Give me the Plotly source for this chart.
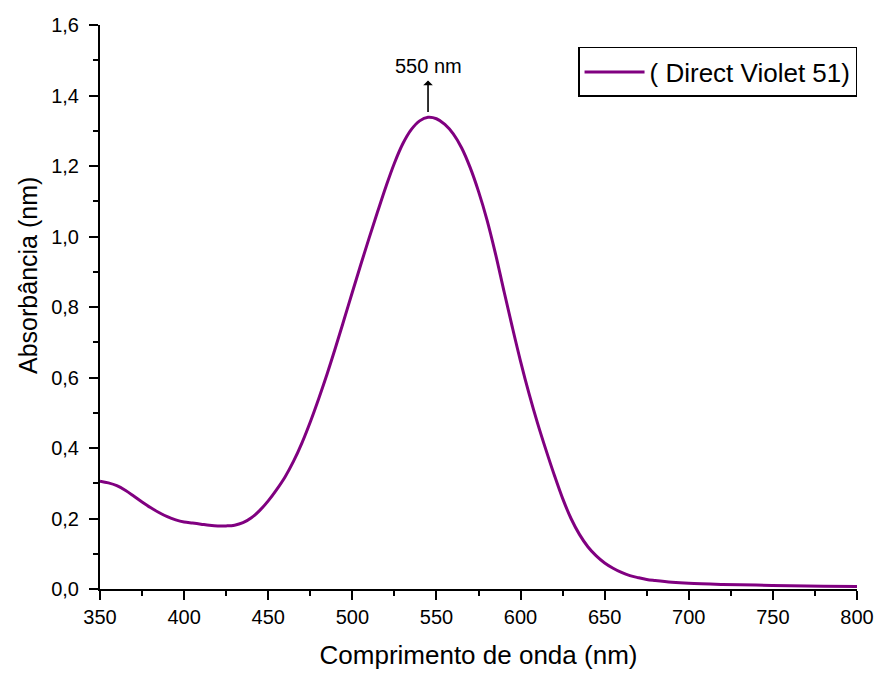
import plotly.graph_objects as go

# UV-Vis absorption spectrum of Direct Violet 51
wavelength_nm = [
    350, 355, 360, 365, 370, 375, 380, 385, 390, 395,
    400, 405, 410, 415, 420, 425, 430, 435, 440, 445,
    450, 455, 460, 465, 470, 475, 480, 485, 490, 495,
    500, 505, 510, 515, 520, 525, 530, 535, 540, 545,
    550, 555, 560, 565, 570, 575, 580, 585, 590, 595,
    600, 605, 610, 615, 620, 625, 630, 635, 640, 645,
    650, 655, 660, 665, 670, 675, 680, 690, 700, 720,
    740, 760, 780, 800,
]
absorbance = [
    0.306, 0.301, 0.293, 0.280, 0.264, 0.247, 0.231, 0.217, 0.205, 0.196,
    0.190, 0.187, 0.184, 0.181, 0.179, 0.179, 0.181, 0.188, 0.202, 0.223,
    0.250, 0.282, 0.318, 0.362, 0.414, 0.474, 0.540, 0.610, 0.685, 0.763,
    0.842, 0.920, 0.996, 1.070, 1.142, 1.208, 1.263, 1.303, 1.328, 1.338,
    1.334, 1.318, 1.291, 1.251, 1.196, 1.128, 1.048, 0.953, 0.848, 0.745,
    0.646, 0.555, 0.472, 0.396, 0.324, 0.257, 0.200, 0.155, 0.120, 0.094,
    0.074, 0.059, 0.047, 0.038, 0.032, 0.027, 0.024, 0.019, 0.016, 0.013,
    0.011, 0.009, 0.008, 0.007,
]

series_name = "( Direct Violet 51)"
peak_label = "550 nm"
x_ticks = list(range(350, 801, 50))
y_ticks = [0.0, 0.2, 0.4, 0.6, 0.8, 1.0, 1.2, 1.4, 1.6]

FONT = "Liberation Sans, Arial, sans-serif"
PURPLE = "#800080"

# position of the maximum, used for the arrow
i_max = max(range(len(absorbance)), key=lambda i: absorbance[i])
peak_x = wavelength_nm[i_max]
peak_y = absorbance[i_max]

fig = go.Figure()
fig.add_trace(go.Scatter(
    x=wavelength_nm, y=absorbance, mode="lines", name=series_name,
    line=dict(color=PURPLE, width=3, shape="spline", smoothing=1.0),
))

axis_common = dict(
    showline=True, linecolor="black", linewidth=2,
    showgrid=False, zeroline=False, mirror=False, automargin=False,
    ticks="outside", ticklen=9, tickwidth=2, tickcolor="black",
    tickfont=dict(family=FONT, size=20, color="black"),
)

fig.update_xaxes(
    range=[350, 800], tickvals=x_ticks,
    minor=dict(ticks="outside", ticklen=5, tickwidth=2, tickcolor="black", dtick=25, tick0=350),
    title=dict(text="Comprimento de onda (nm)", font=dict(family=FONT, size=26, color="black"), standoff=19),
    **axis_common,
)
fig.update_yaxes(
    range=[0, 1.6], tickvals=y_ticks, tickformat=".1f",
    minor=dict(ticks="outside", ticklen=5, tickwidth=2, tickcolor="black", dtick=0.1, tick0=0),
    ticklabelstandoff=6,
    **axis_common,
)

# y-axis title
fig.add_annotation(
    text="Absorbância (nm)", textangle=-90, showarrow=False,
    xref="paper", yref="paper", x=-0.0951, y=0.555,
    xanchor="center", yanchor="middle",
    font=dict(family=FONT, size=25, color="black"),
)

# peak marker: arrow pointing up toward the label
fig.add_annotation(
    text=peak_label, x=peak_x, y=peak_y + 0.015, xref="x", yref="y",
    showarrow=True, arrowside="start", arrowhead=2, arrowsize=1.3, arrowwidth=1.6,
    arrowcolor="black", ax=0, ay=-46, startstandoff=2,
    font=dict(family=FONT, size=20, color="black"),
)

fig.update_layout(
    width=879, height=673,
    margin=dict(l=100, r=22, t=25, b=84),
    paper_bgcolor="white", plot_bgcolor="white",
    separators=", ",
    showlegend=True,
    legend=dict(
        x=0.6315, y=0.9167, xanchor="left", yanchor="middle",
        bordercolor="black", borderwidth=1.5, bgcolor="white",
        font=dict(family=FONT, size=26, color="black"),
        itemwidth=60,
    ),
)

fig.write_html("out.html")
